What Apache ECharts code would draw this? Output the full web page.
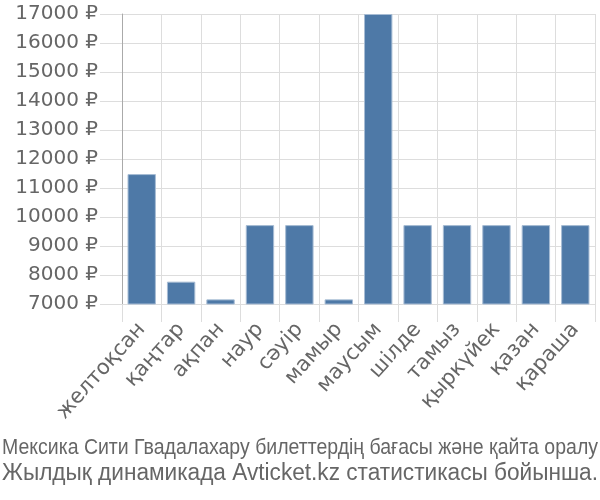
<!DOCTYPE html>
<html><head><meta charset="utf-8">
<script src="https://cdn.jsdelivr.net/npm/echarts@6/dist/echarts.min.js"></script>
<style>html,body{margin:0;padding:0;background:#fff}#c{width:600px;height:500px}</style>
</head><body><div id="c"></div>
<script>
var categories = ['желтоқсан','қаңтар','ақпан','наур','сәуір','мамыр','маусым','шілде','тамыз','қыркүйек','қазан','қараша'];
var prices = [11480, 7770, 7160, 9720, 9720, 7160, 17000, 9720, 9720, 9720, 9720, 9720];
var yMin = 7000, yMax = 17000, yStep = 1000;
var captionLines = ['Мексика Сити Гвадалахару билеттердің бағасы және қайта оралу', 'Жылдық динамикада Avticket.kz статистикасы бойынша.'];

function fitScale(text, font, width){
  var cv = document.createElement('canvas').getContext('2d');
  cv.font = font;
  var w = cv.measureText(text).width;
  return Math.min(1.15, width / w);
}
var capFont1 = '22px "Liberation Sans"', capFont2 = '23px "Liberation Sans"';

var chart = echarts.init(document.getElementById('c'), null, {renderer:'canvas'});
chart.setOption({
  animation:false,
  backgroundColor:'#fff',
  grid:{left:122, right:5, top:14, bottom:196, containLabel:false},
  xAxis:{
    type:'category', data:categories,
    axisLine:{show:true, lineStyle:{color:'#ddd', width:1}},
    axisTick:{show:true, alignWithLabel:false, length:18, lineStyle:{color:'#ddd'}},
    splitLine:{show:true, lineStyle:{color:'#ddd', width:1}},
    axisLabel:{rotate:48, interval:0, fontFamily:'DejaVu Sans', fontSize:21, color:'#666', margin:22}
  },
  yAxis:{
    type:'value', min:yMin, max:yMax, interval:yStep,
    axisLine:{show:true, lineStyle:{color:'#aaa', width:1}},
    axisTick:{show:true, length:22, lineStyle:{color:'#ddd'}},
    splitLine:{show:true, lineStyle:{color:'#ddd', width:1}},
    axisLabel:{formatter:function(v){return v+' ₽';}, fontFamily:'DejaVu Sans', fontSize:20, color:'#666', margin:24}
  },
  graphic:[
    {type:'text', left:2, top:437, scaleX: fitScale(captionLines[0], capFont1, 596), originX:0,
     style:{text:captionLines[0], font:capFont1, fill:'#666'}},
    {type:'text', left:2, top:462, scaleX: fitScale(captionLines[1], capFont2, 596), originX:0,
     style:{text:captionLines[1], font:capFont2, fill:'#666'}}
  ],
  series:[{
    type:'bar', data:prices, barCategoryGap:'28%',
    itemStyle:{color:'#4e79a7', borderColor:'#a7bcd4', borderWidth:1}
  }]
});
</script></body></html>
